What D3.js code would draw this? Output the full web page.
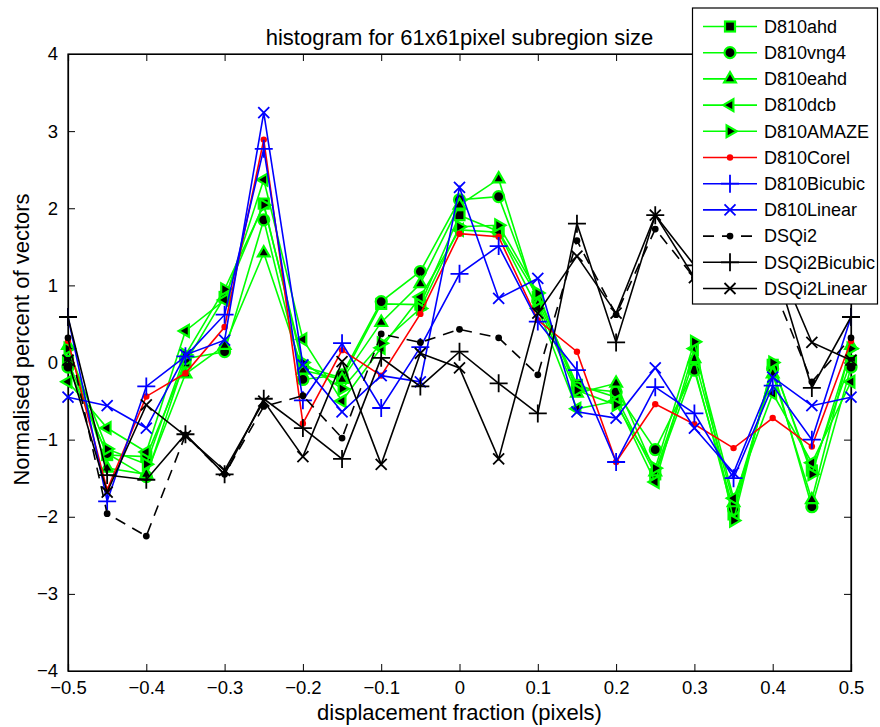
<!DOCTYPE html>
<html>
<head>
<meta charset="utf-8">
<script src="https://cdn.jsdelivr.net/npm/d3@7"></script>
<style>
  html, body { margin: 0; padding: 0; background: #fff; }
  svg { display: block; }
  text { font-family: "Liberation Sans", Arial, Helvetica, sans-serif; fill: #000; }
</style>
</head>
<body>
<svg id="chart" width="880" height="727"></svg>
<script>
// ---------- data ----------
const xValues = [-0.5, -0.45, -0.4, -0.35, -0.3, -0.25, -0.2, -0.15, -0.1, -0.05, 0,
                 0.05, 0.1, 0.15, 0.2, 0.25, 0.3, 0.35, 0.4, 0.45, 0.5];

const seriesNames = ["D810ahd", "D810vng4", "D810eahd", "D810dcb", "D810AMAZE", "D810Corel",
                     "D810Bicubic", "D810Linear", "DSQi2", "DSQi2Bicubic", "DSQi2Linear"];

const D810ahd      = [0.02, -1.20, -1.22, 0.00, 0.85, 2.06, -0.05, -0.20, 0.76, 0.75, 1.91, 1.70, 0.85, -0.29, -0.45, -1.45, -0.07, -1.97, -0.03, -1.40, 0.02];
const D810vng4     = [-0.06, -1.18, -1.48, 0.05, 0.14, 1.85, -0.22, -0.16, 0.79, 1.18, 2.11, 2.15, 0.80, -0.33, -0.38, -1.13, -0.10, -1.90, -0.08, -1.87, -0.06];
const D810eahd     = [0.22, -1.37, -1.45, -0.15, 0.22, 1.42, -0.10, -0.22, 0.52, 1.02, 2.04, 2.38, 0.75, -0.40, -0.27, -1.42, 0.05, -1.82, -0.15, -1.78, 0.22];
const D810dcb      = [-0.25, -0.85, -1.16, 0.41, 0.81, 2.37, 0.30, -0.50, 0.19, 0.85, 1.72, 1.69, 0.70, -0.60, -0.50, -1.55, 0.18, -1.76, -0.40, -1.30, -0.25];
const D810AMAZE    = [0.18, -1.12, -1.32, 0.10, 0.95, 2.04, 0.00, -0.34, 0.25, 0.70, 1.76, 1.78, 0.90, -0.36, -0.55, -1.37, 0.27, -2.05, 0.00, -1.45, 0.18];
const D810Corel    = [0.28, -1.65, -0.44, -0.14, 0.46, 2.89, -0.79, 0.16, -0.17, 0.63, 1.67, 1.63, 0.55, 0.14, -1.29, -0.54, -0.80, -1.11, -0.72, -1.09, 0.28];
const D810Bicubic  = [0.59, -1.80, -0.31, 0.08, 0.62, 2.77, -0.49, 0.25, -0.59, 0.20, 1.15, 1.51, 0.53, -0.10, -1.29, -0.32, -0.66, -1.50, -0.30, -1.00, 0.59];
const D810Linear   = [-0.45, -0.56, -0.85, 0.10, 0.29, 3.24, -0.03, -0.64, -0.17, -0.25, 2.27, 0.83, 1.09, -0.64, -0.72, -0.07, -0.85, -1.43, -0.19, -0.56, -0.45];
const DSQi2        = [0.32, -1.96, -2.25, -0.94, -1.45, -0.57, -0.43, -0.98, 0.37, 0.26, 0.43, 0.32, -0.16, 1.58, 0.62, 1.73, 1.10, 1.70, 1.00, -0.25, 0.32];
const DSQi2Bicubic = [0.59, -1.46, -1.52, -0.93, -1.45, -0.47, -0.85, -1.25, 0.06, -0.31, 0.14, -0.27, -0.66, 1.80, 0.26, 1.91, 1.26, 1.60, 1.35, -0.33, 0.59];
const DSQi2Linear  = [0.03, -1.68, -0.55, -0.95, -1.40, -0.50, -1.22, 0.01, -1.32, 0.12, -0.07, -1.25, 0.64, 1.38, 0.64, 1.91, 1.10, 1.50, 1.45, 0.26, 0.03];

const xTicks = [-0.5, -0.4, -0.3, -0.2, -0.1, 0, 0.1, 0.2, 0.3, 0.4, 0.5];
const yTicks = [-4, -3, -2, -1, 0, 1, 2, 3, 4];

const titleText = "histogram for 61x61pixel subregion size";
const xLabelText = "displacement fraction (pixels)";
const yLabelText = "Normalised percent of vectors";

// ---------- styles ----------
const GREEN = "#00ff00", RED = "#ff0000", BLUE = "#0000ff", BLACK = "#000000";
const styles = {
  D810ahd:      { color: GREEN, marker: "square" },
  D810vng4:     { color: GREEN, marker: "circle" },
  D810eahd:     { color: GREEN, marker: "triUp" },
  D810dcb:      { color: GREEN, marker: "triLeft" },
  D810AMAZE:    { color: GREEN, marker: "triRight" },
  D810Corel:    { color: RED,   marker: "dot" },
  D810Bicubic:  { color: BLUE,  marker: "plus" },
  D810Linear:   { color: BLUE,  marker: "cross" },
  DSQi2:        { color: BLACK, marker: "bdot", dash: "11,8" },
  DSQi2Bicubic: { color: BLACK, marker: "plus" },
  DSQi2Linear:  { color: BLACK, marker: "cross" }
};
const dataByName = { D810ahd, D810vng4, D810eahd, D810dcb, D810AMAZE, D810Corel,
                     D810Bicubic, D810Linear, DSQi2, DSQi2Bicubic, DSQi2Linear };

// ---------- layout ----------
const L = 68, R = 851, T = 54, B = 671;
const svg = d3.select("#chart");
const x = d3.scaleLinear().domain([-0.5, 0.5]).range([L, R]);
const y = d3.scaleLinear().domain([-4, 4]).range([B, T]);
const fmt = v => (v < 0 ? "\u2212" : "") + String(Math.abs(v));

// axes box
svg.append("rect").attr("x", L).attr("y", T).attr("width", R - L).attr("height", B - T)
  .attr("fill", "#fff").attr("stroke", "#000").attr("stroke-width", 1.2);

// axes (inward ticks)
const xAxisB = d3.axisBottom(x).tickValues(xTicks).tickSize(-7).tickPadding(10).tickFormat(fmt);
const gxb = svg.append("g").attr("transform", `translate(0,${B})`).call(xAxisB);
const xAxisT = d3.axisTop(x).tickValues(xTicks).tickSize(-7).tickFormat("");
const gxt = svg.append("g").attr("transform", `translate(0,${T})`).call(xAxisT);
const yAxisL = d3.axisLeft(y).tickValues(yTicks).tickSize(-7).tickPadding(10).tickFormat(fmt);
const gyl = svg.append("g").attr("transform", `translate(${L},0)`).call(yAxisL);
const yAxisR = d3.axisRight(y).tickValues(yTicks).tickSize(-7).tickFormat("");
const gyr = svg.append("g").attr("transform", `translate(${R},0)`).call(yAxisR);
[gxb, gxt, gyl, gyr].forEach(g => {
  g.select(".domain").attr("stroke", "#000").attr("stroke-width", 1.2);
  g.selectAll(".tick line").attr("stroke", "#000").attr("stroke-width", 1);
  g.selectAll("text").attr("font-size", 18.5).attr("font-family", "Liberation Sans, Arial, sans-serif").attr("fill", "#000");
});
gxb.selectAll("text").attr("dy", "0.71em");

// ---------- markers ----------
function drawMarker(g, type, cx, cy, color) {
  const sw = 1.8;
  if (type === "square") {
    g.append("rect").attr("x", cx - 5).attr("y", cy - 5).attr("width", 10).attr("height", 10)
      .attr("fill", "#000").attr("stroke", color).attr("stroke-width", 2.2);
  } else if (type === "circle") {
    g.append("circle").attr("cx", cx).attr("cy", cy).attr("r", 5.5)
      .attr("fill", "#000").attr("stroke", color).attr("stroke-width", 2.2);
  } else if (type === "triUp" || type === "triLeft" || type === "triRight") {
    const rot = type === "triUp" ? 0 : (type === "triLeft" ? -90 : 90);
    g.append("path").attr("d", d3.symbol(d3.symbolTriangle, 60)())
      .attr("transform", `translate(${cx},${cy}) rotate(${rot})`)
      .attr("fill", "#000").attr("stroke", color).attr("stroke-width", 2.2).attr("stroke-linejoin", "miter");
  } else if (type === "dot") {
    g.append("circle").attr("cx", cx).attr("cy", cy).attr("r", 3.2).attr("fill", color).attr("stroke", "none");
  } else if (type === "bdot") {
    g.append("circle").attr("cx", cx).attr("cy", cy).attr("r", 3.4).attr("fill", color).attr("stroke", "none");
  } else if (type === "plus") {
    const h = 9;
    g.append("path").attr("d", `M${cx - h},${cy}H${cx + h}M${cx},${cy - h}V${cy + h}`)
      .attr("stroke", color).attr("stroke-width", sw).attr("fill", "none");
  } else if (type === "cross") {
    const h = 5.5;
    g.append("path").attr("d", `M${cx - h},${cy - h}L${cx + h},${cy + h}M${cx - h},${cy + h}L${cx + h},${cy - h}`)
      .attr("stroke", color).attr("stroke-width", sw).attr("fill", "none");
  }
}

// ---------- series ----------
const line = d3.line().x(d => x(d[0])).y(d => y(d[1]));
const plot = svg.append("g");
seriesNames.forEach(name => {
  const st = styles[name];
  const pts = xValues.map((xv, i) => [xv, dataByName[name][i]]);
  const g = plot.append("g");
  g.append("path").attr("d", line(pts)).attr("fill", "none").attr("stroke", st.color)
    .attr("stroke-width", 1.6).attr("stroke-dasharray", st.dash || null).attr("stroke-linejoin", "miter");
  pts.forEach(p => drawMarker(g, st.marker, x(p[0]), y(p[1]), st.color));
});

// ---------- title & labels ----------
svg.append("text").attr("x", (L + R) / 2).attr("y", 45).attr("text-anchor", "middle")
  .attr("font-size", 22).text(titleText);
svg.append("text").attr("x", (L + R) / 2).attr("y", 720).attr("text-anchor", "middle")
  .attr("font-size", 22).text(xLabelText);
svg.append("text").attr("transform", `translate(29,${(T + B) / 2 - 23}) rotate(-90)`).attr("text-anchor", "middle")
  .attr("font-size", 22).text(yLabelText);

// ---------- legend ----------
const LX = 692.5, LY = 8, LW = 185, LH = 296;
const lg = svg.append("g");
lg.append("rect").attr("x", LX).attr("y", LY).attr("width", LW).attr("height", LH)
  .attr("fill", "#fff").attr("stroke", "#000").attr("stroke-width", 1.2);
seriesNames.forEach((name, i) => {
  const st = styles[name];
  const cy = 26.5 + i * 26.2;
  lg.append("line").attr("x1", 703).attr("x2", 757).attr("y1", cy).attr("y2", cy)
    .attr("stroke", st.color).attr("stroke-width", 1.6).attr("stroke-dasharray", st.dash || null);
  drawMarker(lg, st.marker, 730, cy, st.color);
  lg.append("text").attr("x", 764).attr("y", cy).attr("dy", "0.35em").attr("font-size", 18).text(name);
});
</script>
</body>
</html>
